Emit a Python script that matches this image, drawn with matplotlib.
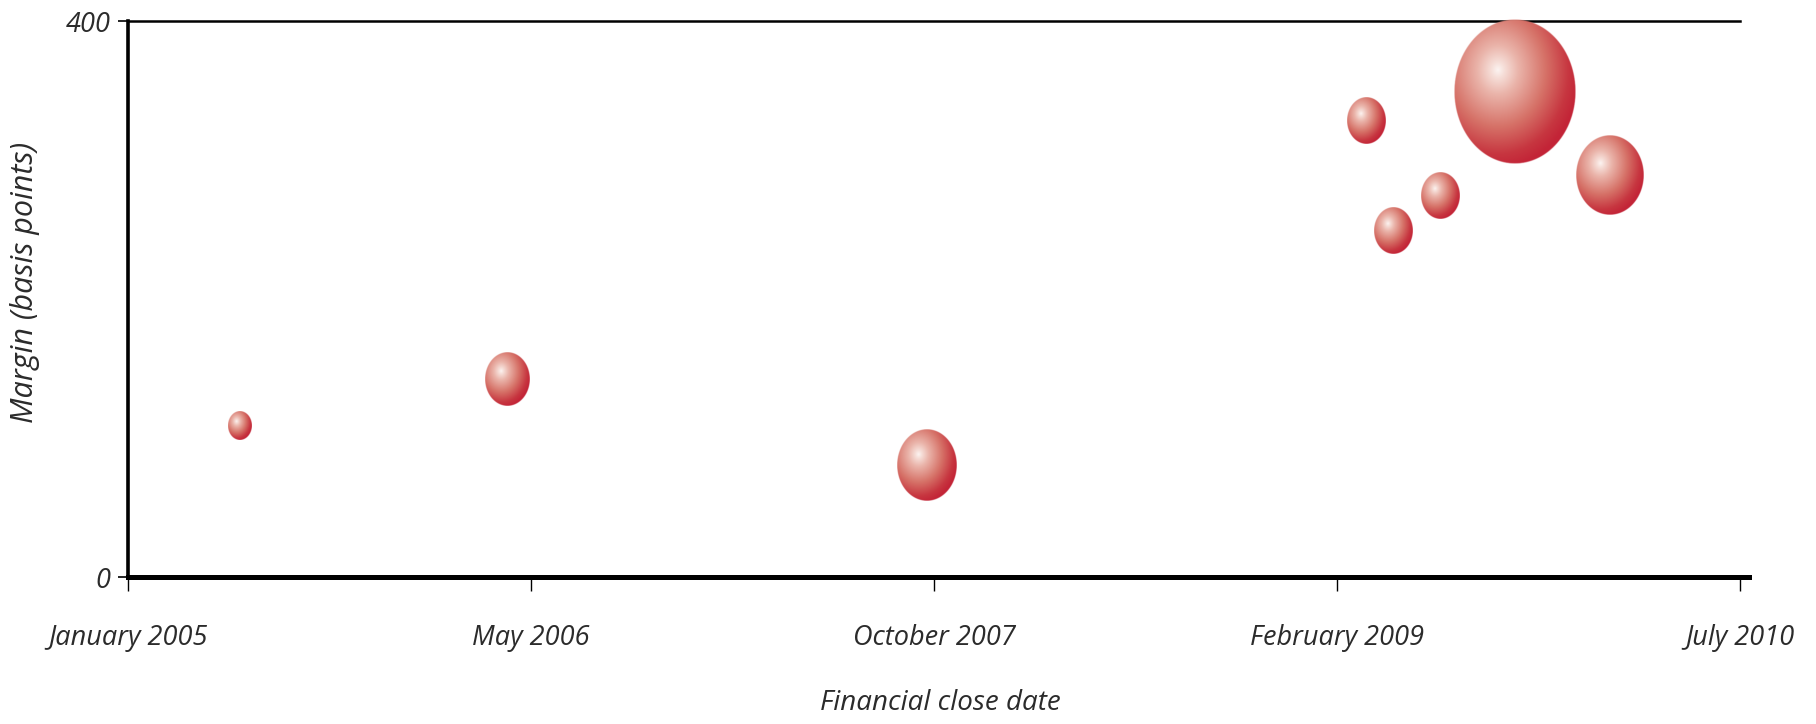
import matplotlib
matplotlib.use("Agg")
import matplotlib.pyplot as plt
import matplotlib.dates as mdates
import numpy as np
from datetime import date

# Deals: financial close date, margin (basis points) and relative deal size
close_dates = [date(2005, 5, 20), date(2006, 4, 19), date(2007, 9, 23), date(2009, 3, 23),
               date(2009, 4, 25), date(2009, 6, 23), date(2009, 9, 23), date(2010, 1, 19)]
margins = [109, 142, 80, 328, 249, 274, 349, 289]
deal_sizes = [0.16, 0.56, 1.0, 0.42, 0.42, 0.42, 4.1, 1.25]

x_start, x_end = date(2005, 1, 1), date(2010, 7, 1)
x_tick_labels = ['January 2005', 'May 2006', 'October 2007', 'February 2009', 'July 2010']
y_ticks = [0, 400]

plt.rcParams['font.family'] = ['Open Sans', 'DejaVu Sans']
text_color = '#2b2b2b'


def sphere_image(n=300):
    # shaded ball: white highlight top-left, deep red towards bottom-right
    u = np.linspace(-1, 1, n)
    xx, yy = np.meshgrid(u, -u)
    r = np.hypot(xx, yy)
    d = np.clip(np.hypot(xx + 0.28, yy - 0.30) / 1.35, 0, 1)
    stops = [0.0, 0.08, 0.25, 0.58, 0.86, 1.0]
    cols = np.array([[252, 244, 242], [246, 222, 216], [234, 180, 170], [214, 114, 104],
                     [199, 54, 64], [195, 36, 55]]) / 255
    rgb = np.stack([np.interp(d, stops, cols[:, i]) for i in range(3)], axis=-1)
    alpha = np.clip((1 - r) * n / 3.0, 0, 1)
    return np.dstack([rgb, alpha])


fig = plt.figure(figsize=(18.16, 7.24), dpi=100)
ax = fig.add_axes([128 / 1816, 1 - 577 / 724, 1621 / 1816, 556 / 724])

x0 = mdates.date2num(x_start)
x1 = mdates.date2num(x_end)
x_right = x0 + (x1 - x0) * 1621 / 1612
ax.set_xlim(x0, x_right)
ax.set_ylim(0, 400)

px_per_day = ax.bbox.width / (x_right - x0)
px_per_bp = ax.bbox.height / 400

img = sphere_image()
for d, m, s in zip(close_dates, margins, deal_sizes):
    diam = 60 * np.sqrt(s)
    half_w = diam / 2 / px_per_day
    half_h = 1.19 * diam / 2 / px_per_bp
    xc = mdates.date2num(d)
    ax.imshow(img, extent=(xc - half_w, xc + half_w, m - half_h, m + half_h),
              aspect='auto', interpolation='bilinear', zorder=3, clip_on=False)

ax.set_xlim(x0, x_right)
ax.set_ylim(0, 400)

# top rule at 400
ax.plot([x0, x1], [400, 400], color='black', lw=1.8, clip_on=False, zorder=1)

for side in ['top', 'right']:
    ax.spines[side].set_visible(False)
ax.spines['left'].set_linewidth(2.6)
ax.spines['bottom'].set_linewidth(3.6)

ax.set_xticks(np.linspace(x0, x1, len(x_tick_labels)))
ax.set_xticklabels(x_tick_labels)
ax.set_yticks(y_ticks)
ax.set_yticklabels([str(v) for v in y_ticks])
ax.tick_params(axis='x', length=10, width=1.0, pad=24, labelsize=19.5, labelcolor=text_color)
ax.tick_params(axis='y', length=7, width=1.2, pad=5.5, labelsize=19.5, labelcolor=text_color)
for lbl in ax.get_xticklabels() + ax.get_yticklabels():
    lbl.set_fontstyle('italic')

fig.text(940 / 1816, 1 - 703 / 724, 'Financial close date', ha='center', va='center',
         fontsize=20, style='italic', color=text_color)
fig.text(25 / 1816, 1 - 282 / 724, 'Margin (basis points)', ha='center', va='center',
         rotation=90, fontsize=22, style='italic', color=text_color)

fig.savefig('out.png', dpi=100, facecolor='white')
